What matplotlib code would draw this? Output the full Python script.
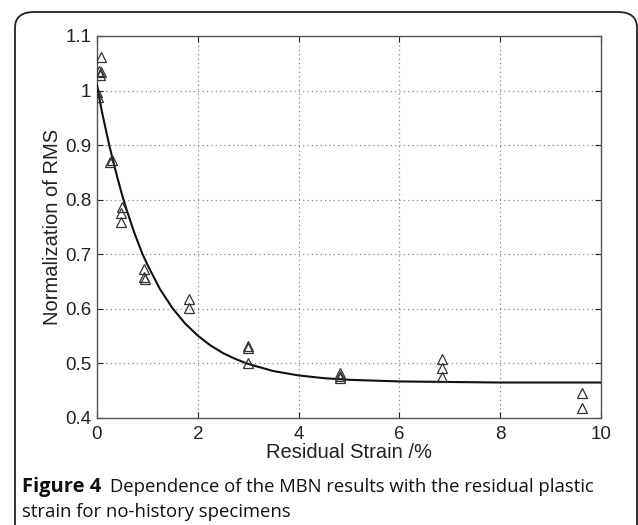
import numpy as np
import matplotlib
matplotlib.use("Agg")
import matplotlib.pyplot as plt
from matplotlib.patches import FancyBboxPatch

# measured points (residual strain %, normalized RMS)
strain = [0.08, 0.04, 0.07, 0.05, 0.0, 0.02,
          0.26, 0.30,
          0.49, 0.47, 0.48,
          0.94, 0.93, 0.95,
          1.83, 1.83,
          2.99, 3.0, 3.0,
          4.83, 4.83, 4.83,
          6.84, 6.84, 6.84,
          9.63, 9.63]
rms = [1.062, 1.036, 1.034, 1.028, 0.998, 0.988,
       0.870, 0.872,
       0.787, 0.776, 0.760,
       0.673, 0.658, 0.655,
       0.618, 0.602,
       0.532, 0.528, 0.501,
       0.482, 0.477, 0.473,
       0.508, 0.492, 0.476,
       0.445, 0.419]

# fitted curve
fit_x = [0, 0.1, 0.25, 0.4, 0.5, 0.6, 0.75, 0.9, 1.0, 1.25, 1.5, 1.75, 2.0,
         2.25, 2.5, 2.75, 3.0, 3.5, 4.0, 4.5, 5.0, 6.0, 7.0, 8.0, 10.0]
fit_y = [1.010, 0.960, 0.897, 0.842, 0.808, 0.778, 0.737, 0.701, 0.681,
         0.636, 0.601, 0.573, 0.551, 0.533, 0.519, 0.508, 0.499, 0.486,
         0.478, 0.473, 0.470, 0.467, 0.466, 0.465, 0.465]

xticks = [0, 2, 4, 6, 8, 10]
yticks = [0.4, 0.5, 0.6, 0.7, 0.8, 0.9, 1.0, 1.1]
ylabels = ["0.4", "0.5", "0.6", "0.7", "0.8", "0.9", "1", "1.1"]

W, H = 638, 525
fig = plt.figure(figsize=(W / 100, H / 100), dpi=100)
plt.rcParams['font.family'] = ['Liberation Sans', 'DejaVu Sans']

# axes box in pixels: left 97, right 601, top 36, bottom 418
ax = fig.add_axes([97 / W, 1 - 418 / H, (601 - 97) / W, (418 - 36) / H])

ax.plot(fit_x, fit_y, color="#111111", lw=1.5, zorder=3)
ax.plot(strain, rms, linestyle="none", marker="^", markersize=7,
        markerfacecolor="none", markeredgecolor="#333333", markeredgewidth=0.9,
        zorder=4)

ax.set_xlim(0, 10)
ax.set_ylim(0.4, 1.1)
ax.set_xticks(xticks)
ax.set_yticks(yticks)
ax.set_yticklabels(ylabels)
ax.grid(True, linestyle=(0, (1, 2.5)), color="#888888", lw=0.9)
ax.tick_params(direction="in", top=True, right=True, length=4,
               labelsize=13.5, colors="#222222")
ax.tick_params(axis="y", pad=4)
ax.tick_params(axis="x", pad=6)
for s in ax.spines.values():
    s.set_color("#555555")
    s.set_linewidth(1.0)

ax.set_xlabel("Residual Strain /%", fontsize=14.5, color="#222222", labelpad=0)
ax.set_ylabel("Normalization of RMS", fontsize=14.5, color="#222222", labelpad=2)

# rounded panel frame
frame = FancyBboxPatch((15 / W, -0.2), (637 - 15) / W, (H - 12) / H + 0.2,
                       boxstyle="round,pad=0,rounding_size=0.03",
                       transform=fig.transFigure, fill=False,
                       edgecolor="#222222", lw=1.3, clip_on=False)
fig.patches.append(frame)

# caption
cap = ["Open Sans", "DejaVu Sans"]
fig.text(22 / W, 1 - 487 / H, "Figure 4", fontsize=14.5, fontweight="bold",
         family=cap, va="center", color="#111111")
fig.text(110 / W, 1 - 487 / H, "Dependence of the MBN results with the residual plastic",
         fontsize=13.3, family=cap, va="center", color="#111111")
fig.text(22 / W, 1 - 512 / H, "strain for no-history specimens", fontsize=13.3,
         family=cap, va="center", color="#111111")

fig.savefig("out.png", dpi=100)
